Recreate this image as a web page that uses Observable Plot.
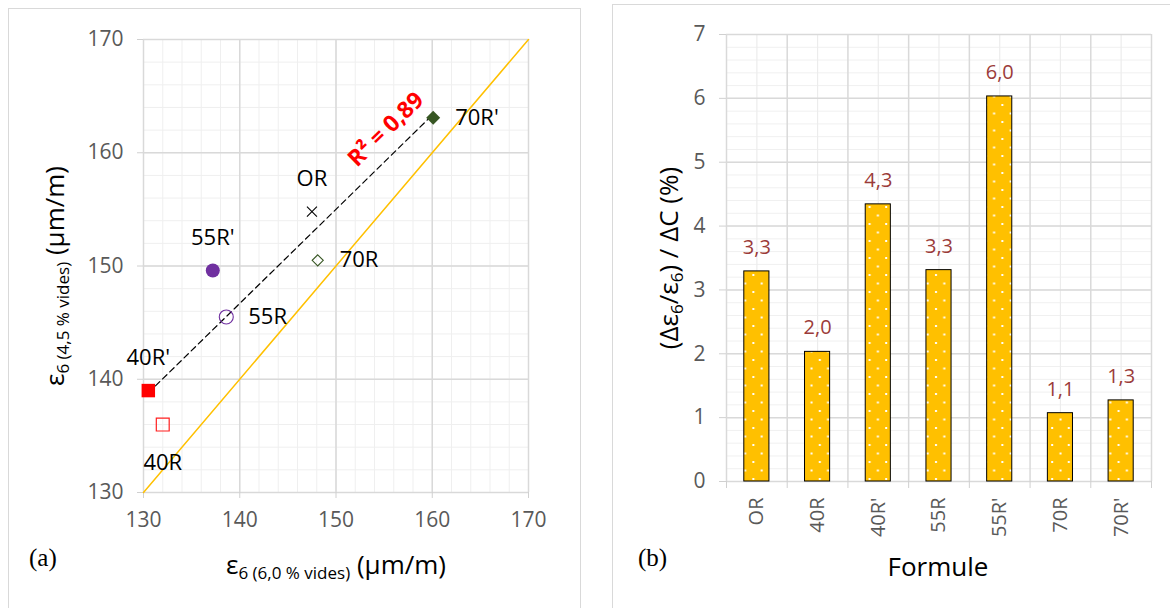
<!DOCTYPE html>
<html><head><meta charset="utf-8">
<script src="https://cdn.jsdelivr.net/npm/d3@7"></script>
<script src="https://cdn.jsdelivr.net/npm/@observablehq/plot@0.6"></script>
<style>
html,body{margin:0;padding:0;background:#fff;}
#wrap{position:relative;width:1170px;height:608px;overflow:hidden;font-family:"Open Sans",sans-serif;}
.panel{position:absolute;border:1px solid #d9d9d9;pointer-events:none;}
#left{position:absolute;left:0;top:0;}
#right{position:absolute;left:600px;top:0;}
</style></head><body>
<div id="wrap"><div id="left"></div><div id="right"></div>
<div class="panel" style="left:8px;top:8px;width:571px;height:640px"></div>
<div class="panel" style="left:612px;top:4px;width:600px;height:640px"></div>
</div>
<script>
// ---------- data ----------
const formulas = ["OR", "40R", "40R'", "55R", "55R'", "70R", "70R'"];
const eps6_60 = [147.5, 132.0, 130.5, 138.6, 137.2, 148.1, 160.1]; // ε6 (6,0 % vides)
const eps6_45 = [154.8, 136.0, 139.0, 145.5, 149.6, 150.5, 163.1]; // ε6 (4,5 % vides)
const sensitivity = [3.29, 2.03, 4.34, 3.31, 6.03, 1.07, 1.27];     // (Δε6/ε6)/ΔC (%)
const identityLine = [130, 170];
const scatterTicks = [130, 140, 150, 160, 170];
const barTicks = [0, 1, 2, 3, 4, 5, 6, 7];

// ---------- styles ----------
const FONT = "Open Sans";
const markerStyle = {
  "OR":   {symbol: "times",    r: 4.6, fill: "none",    stroke: "#000000", strokeWidth: 1.1},
  "40R":  {symbol: "square2",  r: 8.2, fill: "none",    stroke: "#ff1f1f", strokeWidth: 1.2},
  "40R'": {symbol: "square",   r: 7.6, fill: "#ff0000", stroke: "none",    strokeWidth: 0},
  "55R":  {symbol: "circle",   r: 7,   fill: "none",    stroke: "#7030a0", strokeWidth: 1.1},
  "55R'": {symbol: "circle",   r: 7,   fill: "#7030a0", stroke: "none",    strokeWidth: 0},
  "70R":  {symbol: "diamond2", r: 5,   fill: "none",    stroke: "#375623", strokeWidth: 1.1},
  "70R'": {symbol: "diamond2", r: 6.3, fill: "#375623", stroke: "none",    strokeWidth: 0}
};
const labelPlace = {"OR": "top", "40R'": "top", "55R'": "top", "40R": "bottom", "55R": "right", "70R": "right", "70R'": "right"};
const comma = (v, p) => d3.format("." + p + "f")(v).replace(".", ",");

// ---------- left: scatter ----------
const pts = formulas.map((f, i) => ({name: f, x: eps6_60[i], y: eps6_45[i]}));
const mx = d3.mean(eps6_60), my = d3.mean(eps6_45);
let sxy = 0, sxx = 0, syy = 0;
pts.forEach(p => { sxy += (p.x - mx) * (p.y - my); sxx += (p.x - mx) ** 2; syy += (p.y - my) ** 2; });
const slope = sxy / sxx, intercept = my - slope * mx, r2 = sxy * sxy / (sxx * syy);

const L = {w: 600, h: 608, ml: 143, mr: 72, mt: 39, mb: 116};
const pxX = (L.w - L.ml - L.mr) / 40, pxY = (L.h - L.mt - L.mb) / 40;
const angle = -Math.atan(slope * pxY / pxX) * 180 / Math.PI;
const [xmin, xmax] = d3.extent(eps6_60);
const rx = xmin + 0.834 * (xmax - xmin);

const placeOpts = {
  top:    {dy: -33, textAnchor: "middle"},
  bottom: {dy: 38,  textAnchor: "middle"},
  right:  {dx: 22,  textAnchor: "start"}
};

const leftMarks = [
  Plot.ruleX(d3.range(130, 171, 2), {stroke: "#efefef", strokeWidth: 1}),
  Plot.ruleY(d3.range(130, 171, 2), {stroke: "#efefef", strokeWidth: 1}),
  Plot.ruleX(scatterTicks, {stroke: "#d9d9d9", strokeWidth: 1.5}),
  Plot.ruleY(scatterTicks, {stroke: "#d9d9d9", strokeWidth: 1.5}),
  Plot.axisX(scatterTicks, {tickSize: 6, tickPadding: 14, fontSize: 21, stroke: "#d0d0d0", fill: "#595959", label: null}),
  Plot.axisY(scatterTicks, {tickSize: 6, tickPadding: 14, fontSize: 21, stroke: "#d0d0d0", fill: "#595959", label: null}),
  Plot.line(identityLine.map(v => ({x: v, y: v})), {x: "x", y: "y", stroke: "#ffc000", strokeWidth: 1.5}),
  Plot.linearRegressionY(pts, {x: "x", y: "y", ci: 0, stroke: "#000", strokeWidth: 1.2, strokeDasharray: "6,4"}),
  ...pts.map(p => Plot.dot([p], {x: "x", y: "y", ...markerStyle[p.name]})),
  ...Object.keys(placeOpts).map(k => Plot.text(pts.filter(p => labelPlace[p.name] === k), {
    x: "x", y: "y", text: "name", fontSize: 22, fill: "#000", lineAnchor: "middle", ...placeOpts[k]
  })),
  Plot.text([{x: rx, y: intercept + slope * rx}], {
    x: "x", y: "y", text: () => "R² = " + comma(r2, 2), rotate: angle, dy: -31,
    fill: "#ff0000", fontWeight: "bold", fontSize: 23, lineAnchor: "middle"
  })
];

const leftPlot = Plot.plot({
  width: L.w, height: L.h, marginLeft: L.ml, marginRight: L.mr, marginTop: L.mt, marginBottom: L.mb,
  x: {domain: [130, 170]}, y: {domain: [130, 170]},
  style: {fontFamily: FONT, background: "transparent", overflow: "visible"},
  marks: leftMarks
});
document.getElementById("left").appendChild(leftPlot);

// ---------- right: bars ----------
const bars = formulas.map((f, i) => ({name: f, i, v: sensitivity[i]}));
const R = {w: 570, h: 608, ml: 126, mr: 19, mt: 34, mb: 127};
const rightPlot = Plot.plot({
  width: R.w, height: R.h, marginLeft: R.ml, marginRight: R.mr, marginTop: R.mt, marginBottom: R.mb,
  x: {domain: [0, formulas.length]}, y: {domain: [0, 7]},
  style: {fontFamily: FONT, background: "transparent", overflow: "visible"},
  marks: [
    Plot.ruleY(d3.range(0, 7.01, 0.2), {stroke: "#f0f0f0", strokeWidth: 1}),
    Plot.ruleX(d3.range(0.5, formulas.length, 1), {stroke: "#ececec", strokeWidth: 1.2}),
    Plot.ruleY(barTicks, {stroke: "#d9d9d9", strokeWidth: 1.5}),
    Plot.ruleX(d3.range(0, formulas.length + 1), {stroke: "#d9d9d9", strokeWidth: 1.5}),
    Plot.axisY(barTicks, {tickSize: 7, tickPadding: 14, fontSize: 21, tickFormat: d => String(d),
      stroke: "#d0d0d0", fill: "#595959", label: null}),
    Plot.axisX(d3.range(0, formulas.length + 1), {tickSize: 7, stroke: "#d0d0d0", fill: "none", label: null}),
    Plot.rectY(bars, {x1: d => d.i, x2: d => d.i + 1, y: "v", insetLeft: 17.8, insetRight: 17.8,
      fill: "url(#dotfill)", stroke: "#000", strokeWidth: 1}),
    Plot.text(bars, {x: d => d.i + 0.5, y: "v", text: d => comma(d.v, 1), dy: -24, fontSize: 20, fill: "#9b3b39", lineAnchor: "middle"}),
    Plot.text(bars, {x: d => d.i + 0.5, y: () => 0, text: "name", rotate: -90, textAnchor: "end", lineAnchor: "middle",
      dy: 16, fontSize: 20, fill: "#595959"})
  ]
});
document.getElementById("right").appendChild(rightPlot);

// pattern for bars
const rs = d3.select(rightPlot);
const pat = rs.insert("defs", ":first-child").append("pattern")
  .attr("id", "dotfill").attr("patternUnits", "userSpaceOnUse").attr("width", 16.6).attr("height", 17);
pat.append("rect").attr("width", 16.6).attr("height", 17).attr("fill", "#ffc000");
pat.append("rect").attr("x", 3).attr("y", 2).attr("width", 2).attr("height", 2).attr("fill", "#fff");
pat.append("rect").attr("x", 11.3).attr("y", 10.5).attr("width", 2).attr("height", 2).attr("fill", "#fff");

// ---------- titles with subscripts ----------
function richText(svg, x, y, rot, parts, opts = {}) {
  const t = d3.select(svg).append("text")
    .attr("transform", `translate(${x},${y}) rotate(${rot})`)
    .attr("text-anchor", opts.anchor || "middle")
    .attr("font-family", opts.family || FONT)
    .attr("fill", opts.fill || "#000");
  parts.forEach(p => {
    const s = t.append("tspan").attr("font-size", p.size).text(p.text);
    if (p.dy) s.attr("dy", p.dy);
  });
  return t;
}
const big = 26, sub = 17;
richText(leftPlot, 64, 276, -90, [
  {text: "ε", size: big}, {text: "6 (4,5 % vides)", size: sub, dy: 5}, {text: " (μm/m)", size: big, dy: -5}
]);
richText(leftPlot, 336, 574, 0, [
  {text: "ε", size: big}, {text: "6 (6,0 % vides)", size: sub, dy: 5}, {text: " (μm/m)", size: big, dy: -5}
]);
richText(rightPlot, 78, 258, -90, [
  {text: "(Δε", size: big}, {text: "6", size: sub, dy: 5}, {text: "/ε", size: big, dy: -5},
  {text: "6", size: sub, dy: 5}, {text: ") / ΔC (%)", size: big, dy: -5}
]);
richText(rightPlot, 338, 576, 0, [{text: "Formule", size: 26}]);
richText(leftPlot, 29, 566, 0, [{text: "(a)", size: 25}], {anchor: "start", family: "Liberation Serif"});
richText(rightPlot, 38, 566, 0, [{text: "(b)", size: 25}], {anchor: "start", family: "Liberation Serif"});
</script>
</body></html>
